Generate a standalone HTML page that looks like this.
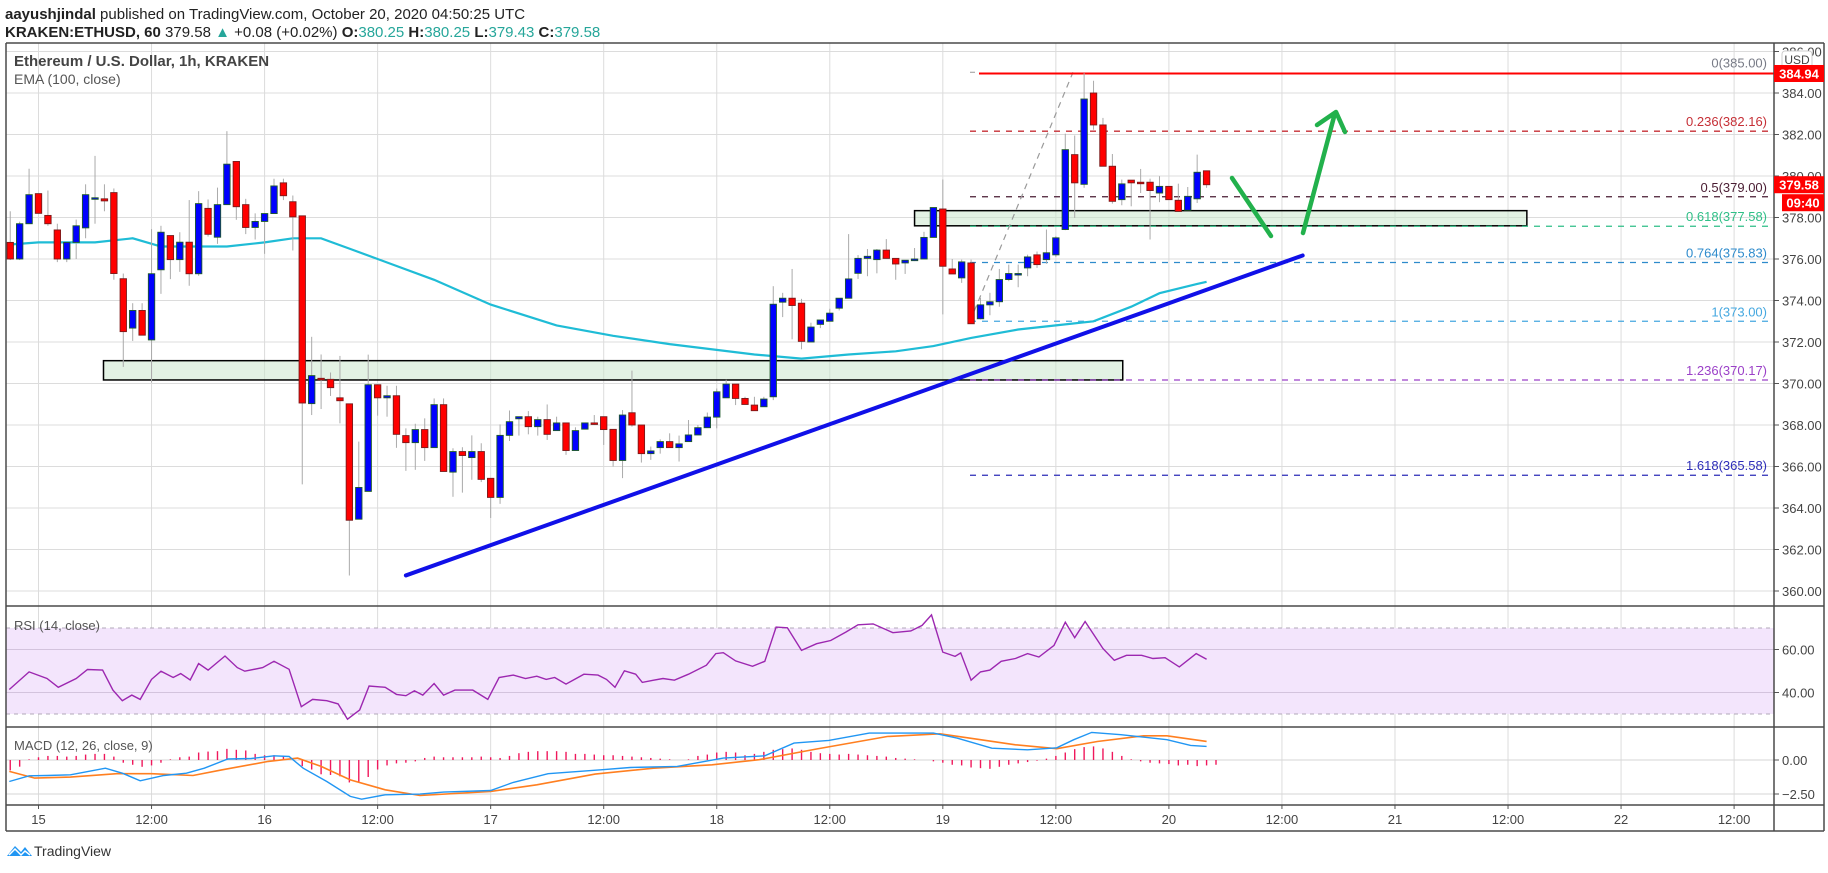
<!DOCTYPE html>
<html><head><meta charset="utf-8"><title>ETHUSD chart</title>
<style>
html,body{margin:0;padding:0;background:#fff;}
body{width:1828px;height:868px;overflow:hidden;font-family:"Liberation Sans",sans-serif;}
svg text{font-family:"Liberation Sans",sans-serif;}
</style></head>
<body>
<svg id="chart" width="1828" height="868" viewBox="0 0 1828 868" xmlns="http://www.w3.org/2000/svg">
  <g>
    <text x="5" y="19" font-size="15" fill="#222"><tspan font-weight="bold">aayushjindal</tspan> published on TradingView.com, October 20, 2020 04:50:25 UTC</text>
    <text x="5" y="37" font-size="15" fill="#222"><tspan font-weight="bold">KRAKEN:ETHUSD, 60</tspan> 379.58 <tspan fill="#26a69a">▲</tspan> +0.08 (+0.02%) <tspan font-weight="bold">O:</tspan><tspan fill="#26a69a">380.25</tspan> <tspan font-weight="bold">H:</tspan><tspan fill="#26a69a">380.25</tspan> <tspan font-weight="bold">L:</tspan><tspan fill="#26a69a">379.43</tspan> <tspan font-weight="bold">C:</tspan><tspan fill="#26a69a">379.58</tspan></text>
  </g>
  <g id="grid"></g>
  <g id="rsiBg"></g>
  <g id="marks"></g>
  <g id="frame"></g>
  <g id="labels"></g>
</svg>
<script>
// ---------- data ----------
const candleStartHour = -3; // hours from Oct 15 00:00
const opens  = [376.8,376.0,377.7,379.15,378.1,377.4,376.0,376.8,377.5,378.9,378.9,379.2,375.05,372.67,373.52,372.1,375.48,377.13,375.97,376.81,375.29,378.44,377.05,378.62,380.7,378.62,377.52,377.81,378.19,379.67,378.76,378.08,369.03,370.25,370.2,369.31,369.02,363.46,364.8,369.94,369.31,369.41,367.49,367.15,367.78,366.91,368.98,365.73,366.72,366.43,366.72,365.43,364.51,367.5,368.3,368.4,367.92,368.26,367.73,368.1,366.77,367.8,368.1,368.4,367.79,366.29,368.59,368.0,366.62,366.91,367.2,366.91,367.2,367.52,367.87,368.38,369.31,369.97,369.28,368.96,368.88,369.36,373.92,374.11,373.87,372.0,372.85,373.0,373.63,374.11,375.31,376.03,375.97,376.43,376.03,375.81,375.92,376.0,377.04,378.41,375.52,375.09,375.81,373.12,373.79,373.94,375.01,375.3,375.57,376.2,375.97,376.2,377.42,381.03,379.6,384.0,382.46,380.47,378.86,379.8,379.7,379.7,379.18,379.5,378.83,378.35,378.9,380.25];
const highs  = [378.3,377.8,380.35,379.15,379.3,377.7,376.8,377.9,379.6,380.97,379.6,379.4,375.3,373.87,373.87,377.44,377.6,377.13,377.29,378.84,379.27,378.87,379.44,382.16,380.7,378.9,378.2,378.19,379.87,379.87,379.06,378.08,372.25,371.4,370.53,371.33,369.02,367.2,371.39,369.94,369.89,369.89,367.84,368.06,368.32,369.28,369.28,366.88,366.93,367.5,367.12,365.43,368.03,368.7,368.4,368.67,368.4,368.99,368.4,368.1,367.89,368.1,368.48,368.4,367.79,368.72,370.62,368.0,366.96,367.31,367.6,367.49,368.24,368.0,368.6,369.76,370.18,369.97,369.36,369.36,369.36,374.69,374.37,375.52,374.08,372.93,373.06,373.6,374.11,377.2,376.19,376.48,376.48,376.96,376.03,375.94,376.53,377.31,378.48,379.83,376.0,375.97,375.97,374.13,374.37,375.52,375.73,375.73,376.21,376.36,377.42,377.1,382.04,381.95,384.96,384.59,382.8,381.06,379.83,379.8,380.34,379.87,379.99,379.5,379.63,379.47,381.03,380.25];
const lows   = [375.95,375.95,377.7,378.2,377.6,375.85,375.85,376.0,377.0,377.7,378.3,375.0,370.8,372.05,372.33,370.05,374.32,375.03,375.38,374.71,375.19,377.08,376.73,378.62,377.89,377.2,376.94,376.25,378.19,378.84,376.41,365.14,368.48,368.77,369.4,368.08,360.75,363.46,364.8,368.45,368.4,366.9,365.79,365.84,366.27,366.9,365.76,364.54,364.74,365.36,365.25,363.52,364.2,367.23,367.49,367.55,367.49,367.28,367.73,366.56,366.77,367.8,368.0,367.04,366.0,365.44,367.92,366.19,366.32,366.62,366.91,366.24,367.2,367.52,367.87,367.84,369.31,368.96,368.99,368.69,368.88,369.2,373.2,372.13,371.65,372.0,372.67,373.0,373.52,374.11,375.04,375.17,375.31,376.03,375.0,375.28,375.9,376.0,377.04,373.33,375.28,374.85,372.88,373.09,373.29,373.7,374.93,374.64,375.17,375.57,375.77,376.1,377.39,377.98,379.43,382.23,380.47,378.67,378.59,378.54,379.18,376.94,378.74,378.86,378.29,378.35,378.7,379.43];
const closes = [376.0,377.7,379.1,378.2,377.7,376.0,376.8,377.6,379.1,378.95,378.8,375.3,372.5,373.52,372.33,375.29,377.29,375.97,376.81,375.29,378.67,377.19,378.62,380.57,378.52,377.52,377.81,378.19,379.52,379.05,378.03,369.06,370.38,370.2,369.8,369.17,363.41,364.99,369.94,369.31,369.41,367.55,367.15,367.78,366.91,368.98,365.76,366.72,366.53,366.72,365.38,364.51,367.5,368.16,368.4,367.92,368.26,367.55,368.1,366.77,367.73,368.1,368.05,367.78,366.29,368.48,368.0,366.62,366.75,367.2,366.91,367.09,367.52,367.87,368.38,369.6,369.97,369.28,368.99,368.69,369.25,373.82,374.11,373.76,372.03,372.72,373.06,373.39,374.11,375.04,376.03,376.13,376.43,376.03,375.76,375.94,376.0,377.04,378.48,375.65,375.28,375.86,372.88,373.79,373.94,375.01,375.3,375.3,376.1,375.73,376.3,377.02,381.27,379.67,383.71,382.46,380.47,378.78,379.62,379.67,379.67,379.3,379.5,378.86,378.29,379.02,380.18,379.58];
const emaHours  = [-3,0,6,10,13,16,20,24,27,30,33,36,42,48,55,61,67,76,81,86,91,95,99,104,108,112,116,119,123,124];
const emaValues = [376.7,376.8,376.8,377.0,376.6,376.6,376.6,376.8,377.0,377.0,376.5,376.0,375.0,373.8,372.8,372.3,371.9,371.4,371.2,371.4,371.55,371.8,372.2,372.6,372.8,373.0,373.7,374.35,374.8,374.9];
const rsiHours  = [-3.1,-1,0.9,2.1,4,5.2,6.8,7.9,8.9,9.9,10.8,12,13,14.3,15.1,16.1,17,18,19.8,21.1,21.9,23.8,25,26.6,27.9,29.1,30.6,31.8,32.8,34.1,35.1,36.8,38,39,39.9,40.8,42,43,44.2,46.1,47.7,48.9,50.4,51.7,52.9,53.9,54.8,56,57.9,59.4,60.3,61.2,62.2,63.4,64.1,65.3,66.3,67.5,69,70.9,71.9,72.7,74,75.8,77.1,78.3,79.5,81,82.6,84.1,85.7,87,88.6,90.7,92.6,93.8,94.8,96,97.3,97.9,99,100,101,102.2,103.7,105,106.2,107.8,109,110,111.1,113,114.2,115.5,117.1,118.3,119.6,121.1,122.9,124];
const rsiValues = [41.4,49.6,46.5,42.4,46.5,50.7,50.4,41.1,36.2,38.8,36.8,46.1,49.9,47.0,48.8,45.8,53.5,50.4,57.0,51.6,49.9,51.6,54.5,50.8,33.4,36.8,36.2,34.7,27.6,31.9,43.0,42.4,39.1,38.5,40.8,38.8,44.2,38.8,41.1,41.1,36.8,47.0,48.1,46.5,47.6,46.1,47.0,43.9,48.5,48.1,46.1,42.4,50.1,48.5,44.7,45.7,46.5,45.7,48.5,52.7,58.1,58.5,54.7,52.2,54.5,70.4,70.1,59.6,62.7,64.2,68.1,71.5,71.9,67.8,68.6,71.2,76.1,58.8,56.8,58.4,45.7,49.6,50.4,54.5,55.8,58.1,56.5,61.9,72.7,65.5,73.0,60.4,55.0,57.3,57.3,55.8,56.2,51.9,58.1,55.5];
const macdHours  = [-3.1,-1,0.9,3.4,7.1,8.9,10.8,13.3,15.7,17.6,20.1,22.6,25,26.6,28.1,30.6,33.1,34.3,36.8,40.5,43,48,50.4,54.1,59.7,62.8,67.8,72.7,77.1,80.2,83.9,88.2,95,97.5,101.2,105,108.1,109.9,111.8,114.9,119.8,122.3,124];
const macdValues = [-1.58,-1.16,-1.14,-1.09,-0.6,-0.97,-1.53,-1.14,-0.97,-0.6,0.07,0.11,0.31,0.26,-0.6,-1.58,-2.68,-2.88,-2.56,-2.51,-2.36,-2.24,-1.65,-1.01,-0.72,-0.55,-0.47,0.14,0.31,1.24,1.44,1.98,1.98,1.61,0.87,0.75,0.9,1.49,2.03,1.86,1.49,1.07,1.0];
const signalHours  = [-3.1,-0.4,3.4,8.3,12,16.4,19.5,24.4,27.5,30,33.1,36.8,40.5,48,52.9,59.1,65.3,71.5,76.5,82.6,90.1,95.7,100,103.7,108.1,112.4,117.3,119.8,124];
const signalValues = [-0.84,-1.33,-1.26,-1.01,-1.01,-1.14,-0.72,-0.1,0.14,-0.47,-1.46,-2.19,-2.61,-2.31,-1.82,-1.04,-0.6,-0.35,0.02,0.81,1.73,1.93,1.49,1.12,0.83,1.36,1.78,1.78,1.37];
const histValues = [-0.76,-0.49,0.05,0.2,0.3,0.3,0.25,0.3,0.4,0.45,0.45,0.25,-0.2,-0.35,-0.5,-0.4,-0.2,0.05,0.2,0.25,0.55,0.62,0.65,0.82,0.75,0.7,0.45,0.35,0.35,0.3,0.1,-0.45,-0.7,-1.05,-1.1,-1.2,-1.65,-1.65,-1.25,-0.7,-0.4,-0.25,-0.2,-0.1,
 0.15,0.25,0.2,0.2,0.2,0.2,0.25,0.2,0.15, 0.3,0.5,0.6,0.65,0.65,0.65,0.6, 0.45,0.45,0.4,0.35,0.35,0.3,0.25, 0.2,0.15,0.1,0.05,0.0,0.05,
 0.3,0.4,0.55,0.6,0.55,0.35,0.45,0.6, 0.75,0.8,0.85,0.75,0.6,0.5,0.45,0.4, 0.45,0.4,0.35,0.3,0.25,0.15,0.1,0.05,
 0.0,-0.1,-0.2,-0.35,-0.4,-0.55,-0.6,-0.65, -0.5,-0.35,-0.25,-0.15,-0.05,0.1,0.3,0.55, 0.8,0.95,1.0,0.85,0.6,0.3,0.05,-0.1, -0.2,-0.25,-0.3,-0.4,-0.35,-0.45,-0.4,-0.35];
const priceTicks = [386,384,382,380,378,376,374,372,370,368,366,364,362,360];
const timeTickHours = [0,12,24,36,48,60,72,84,96,108,120,132,144,156,168,180];
const timeTickLabels = ["15","12:00","16","12:00","17","12:00","18","12:00","19","12:00","20","12:00","21","12:00","22","12:00"];
const fibRatios = ["0","0.236","0.5","0.618","0.764","1","1.236","1.618"];
const fibPrices = [385.00,382.16,379.00,377.58,375.83,373.00,370.17,365.58];
const fibColors = ["#787b86","#c62f36","#4a1d33","#2fbf87","#2e8bcc","#45a8e0","#9b40c8","#2d2db8"];
const zones = [{h0:6.9, h1:115.1, top:371.1, bot:370.17},{h0:93.0, h1:158, top:378.33, bot:377.6}];
const trendStart = {h:39, p:360.75};
const trendEnd = {h:134.2, p:376.17};

// ---------- scales ----------
const L = 6, R = 1774, RIGHT = 1824;
const MAIN_T = 43, MAIN_B = 606, RSI_T = 606, RSI_B = 727, MACD_T = 727, MACD_B = 805, AX_B = 831;
function xH(h){ return 38.5 + h*9.42; }
function yP(p){ return 93 + (384 - p)*20.75; }
function yR(v){ return 628 + (70 - v)*2.15; }
function yM(v){ return 760 - v*13.6; }
const NS = "http://www.w3.org/2000/svg";
function mk(tag, attrs, parent){ const e=document.createElementNS(NS,tag); for(const k in attrs) e.setAttribute(k, attrs[k]); parent.appendChild(e); return e; }
const svg = document.getElementById('chart');
const grid = document.getElementById('grid');
const marks = document.getElementById('marks');
const labels = document.getElementById('labels');
const frame = document.getElementById('frame');

// clip paths
const defs = mk('defs', {}, svg);
[['clipMain',MAIN_T,MAIN_B],['clipRsi',RSI_T,RSI_B],['clipMacd',MACD_T,MACD_B]].forEach(c=>{
  const cp = mk('clipPath',{id:c[0]},defs); mk('rect',{x:L,y:c[1],width:R-L,height:c[2]-c[1]},cp);
});

// grid verticals
timeTickHours.forEach((h,i)=>{
  const x = xH(h);
  const v = mk('line',{x1:x,x2:x,y1:MAIN_T,y2:MACD_B,stroke:'#dcdcdc','stroke-width':1},grid);
  
  
  const tk = mk('line',{x1:x,x2:x,y1:MACD_B,y2:MACD_B+4,stroke:'#555'},grid);
  
  
  const t = mk('text',{x:x,y:824,'font-size':13,fill:'#444','text-anchor':'middle'},labels);
  t.textContent = timeTickLabels[i];
  
  
});
// price grid + labels
priceTicks.forEach(p=>{
  const y = yP(p);
  const g = mk('line',{x1:L,x2:R,y1:y,y2:y,stroke:'#dcdcdc'},grid);
  
  
  const tk = mk('line',{x1:R,x2:R+5,y1:y,y2:y,stroke:'#555'},grid);
  
  
  const t = mk('text',{x:R+8,y:y+5,'font-size':13,fill:'#444'},labels);
  t.textContent = p.toFixed(2);
  
  
});

// RSI background
const rsiBg = document.getElementById('rsiBg');
mk('rect',{x:L,y:yR(70),width:R-L,height:yR(30)-yR(70),fill:'#f3e5fc'},rsiBg);
[60,40].forEach(v=>{
  mk('line',{x1:L,x2:R,y1:yR(v),y2:yR(v),stroke:'#d3c3dd'},rsiBg);
  const tk = mk('line',{x1:R,x2:R+5,y1:yR(v),y2:yR(v),stroke:'#555'},rsiBg);
  const t = mk('text',{x:R+8,y:yR(v)+5,'font-size':13,fill:'#444'},labels);
  t.textContent = v.toFixed(2);
  
  
});
[70,30].forEach(v=>{
  const l = mk('line',{x1:L,x2:R,y1:yR(v),y2:yR(v),stroke:'#b0a8b8','stroke-dasharray':'4 4'},rsiBg);
  
  
});
// MACD grid
[0,-2.5].forEach(v=>{
  mk('line',{x1:L,x2:R,y1:yM(v),y2:yM(v),stroke:'#d6d6d6'},grid);
  mk('line',{x1:R,x2:R+5,y1:yM(v),y2:yM(v),stroke:'#555'},grid);
  const t = mk('text',{x:R+8,y:yM(v)+5,'font-size':13,fill:'#444'},labels);
  t.textContent = v===0 ? '0.00' : '\u22122.50';
  
  
});

// main pane marks
const main = mk('g',{'clip-path':'url(#clipMain)'},marks);


zones.forEach(z=>{
  const r = mk('rect',{x:xH(z.h0),y:yP(z.top),width:xH(z.h1)-xH(z.h0),height:yP(z.bot)-yP(z.top),fill:'rgba(200,230,201,0.5)',stroke:'#000','stroke-width':1.5},main);
  
  
});
// fib lines
const fibX0 = 970, fibX1 = 1771;
fibPrices.forEach((p,i)=>{
  const y = yP(p);
  if(i===0){
    const l = mk('line',{x1:fibX0,x2:fibX0+8,y1:y,y2:y,stroke:'#999','stroke-dasharray':'5 4'},main);
    
    
  } else {
    const l = mk('line',{x1:fibX0,x2:fibX1,y1:y,y2:y,stroke:fibColors[i],'stroke-width':1.3,'stroke-dasharray':'6 6'},main);
    
    
  }
  const t = mk('text',{x:1767,y:y-5,'font-size':13,fill:fibColors[i],'text-anchor':'end'},main);
  t.textContent = fibRatios[i] + '(' + p.toFixed(2) + ')';
  
  
});
// fib diagonal
const diag = mk('line',{x1:970,y1:yP(373),x2:1073,y2:yP(385),stroke:'#9a9a9a','stroke-width':1.2,'stroke-dasharray':'6 5'},main);


// resistance red line
const red = mk('line',{x1:979,x2:R,y1:yP(384.94),y2:yP(384.94),stroke:'#ff0000','stroke-width':2},main);


// EMA
let d = emaHours.map((h,i)=>(i?'L':'M')+xH(h).toFixed(1)+' '+yP(emaValues[i]).toFixed(1)).join(' ');
const ema = mk('path',{d:d,fill:'none',stroke:'#1fbcd6','stroke-width':2.2},main);


// candles
opens.forEach((o,i)=>{
  const h = candleStartHour + i, x = xH(h), c = closes[i];
  const up = c >= o;
  const g = mk('g',{},main);
  
  
  mk('line',{x1:x,x2:x,y1:yP(highs[i]),y2:yP(lows[i]),stroke:'#aaaaaa','stroke-width':1},g);
  const top = yP(Math.max(o,c)), bot = yP(Math.min(o,c));
  mk('rect',{x:x-3.2,y:top,width:6.4,height:Math.max(1.5,bot-top),fill:up?'#0000ff':'#ff0000',stroke:up?'#1e5a2a':'#7a1a1a','stroke-width':0.9},g);
});
// trendline
const tl = mk('line',{x1:xH(trendStart.h),y1:yP(trendStart.p),x2:xH(trendEnd.h),y2:yP(trendEnd.p),stroke:'#1010e8','stroke-width':4,'stroke-linecap':'round'},main);


// arrows
const a1 = mk('line',{x1:1232,y1:178,x2:1271,y2:236,stroke:'#22b14c','stroke-width':4.5,'stroke-linecap':'round'},main);


const a2 = mk('path',{d:'M1303 233 L1335 113 M1317 125 L1336 112 L1345 132',fill:'none',stroke:'#22b14c','stroke-width':4.5,'stroke-linecap':'round','stroke-linejoin':'round'},main);



// RSI line
const rsiG = mk('g',{'clip-path':'url(#clipRsi)'},marks);
d = rsiHours.map((h,i)=>(i?'L':'M')+xH(h).toFixed(1)+' '+yR(rsiValues[i]).toFixed(1)).join(' ');
const rsi = mk('path',{d:d,fill:'none',stroke:'#9c27b0','stroke-width':1.4},rsiG);



// MACD
const macdG = mk('g',{'clip-path':'url(#clipMacd)'},marks);
histValues.forEach((v,i)=>{
  const x = xH(candleStartHour+i);
  const b = mk('line',{x1:x,x2:x,y1:yM(0),y2:yM(v),stroke:'#f0185c','stroke-width':1.4},macdG);
  
  
});
d = signalHours.map((h,i)=>(i?'L':'M')+xH(h).toFixed(1)+' '+yM(signalValues[i]).toFixed(1)).join(' ');
const sig = mk('path',{d:d,fill:'none',stroke:'#ff7f20','stroke-width':1.6},macdG);


d = macdHours.map((h,i)=>(i?'L':'M')+xH(h).toFixed(1)+' '+yM(macdValues[i]).toFixed(1)).join(' ');
const mac = mk('path',{d:d,fill:'none',stroke:'#2196f3','stroke-width':1.4},macdG);



// frame
[[L,MAIN_T,RIGHT,MAIN_T],[L,AX_B,RIGHT,AX_B],[L,MAIN_T,L,AX_B],[RIGHT,MAIN_T,RIGHT,AX_B],[R,MAIN_T,R,AX_B],[L,RSI_T,RIGHT,RSI_T],[L,MACD_T,RIGHT,MACD_T],[L,MACD_B,RIGHT,MACD_B]].forEach(s=>{
  mk('line',{x1:s[0],y1:s[1],x2:s[2],y2:s[3],stroke:'#4a4a4a','stroke-width':1.5},frame);
});

// titles / tags
function txt(x,y,s,str,attrs,name){ const t=mk('text',Object.assign({x:x,y:y,'font-size':s},attrs),labels); t.textContent=str; return t; }
let t;
t = txt(14,66,15,'Ethereum / U.S. Dollar, 1h, KRAKEN',{fill:'#444','font-weight':'bold'});


t = txt(14,84,14,'EMA (100, close)',{fill:'#555'});


t = txt(14,630,13,'RSI (14, close)',{fill:'#555'});


t = txt(14,750,13,'MACD (12, 26, close, 9)',{fill:'#555'});


// USD badge
const ub = mk('rect',{x:1782,y:51,width:30,height:17,rx:3,fill:'#fff',stroke:'#ccc'},labels);


t = txt(1797,64,12,'USD',{fill:'#444','text-anchor':'middle'});


function tag(y,str,x0,name){
  const r = mk('rect',{x:x0,y:y-8.5,width:RIGHT-x0,height:17,fill:'#ff0000'},labels);
  
  
  const tt = mk('text',{x:(x0+RIGHT)/2,y:y+5,'font-size':13,'font-weight':'bold',fill:'#fff','text-anchor':'middle'},labels);
  tt.textContent = str;
}
tag(yP(384.94),'384.94',R,'high-price-tag');
tag(yP(379.58),'379.58',R,'last-price-tag');
tag(yP(379.58)+18,'09:40',1782,'bar-countdown-tag');

// logo
const logo = mk('g',{},svg);


mk('path',{d:'M7 856 L15 846 L21 852 L25 847 L32 856 Z',fill:'#2196f3'},logo);
mk('path',{d:'M9 855 L15 849 L21 855 L25 851 L30 855',fill:'none',stroke:'#fff','stroke-width':1.5},logo);
const lt = mk('text',{x:34,y:856,'font-size':14,fill:'#333'},logo);
lt.textContent = 'TradingView';
</script>
</body></html>
